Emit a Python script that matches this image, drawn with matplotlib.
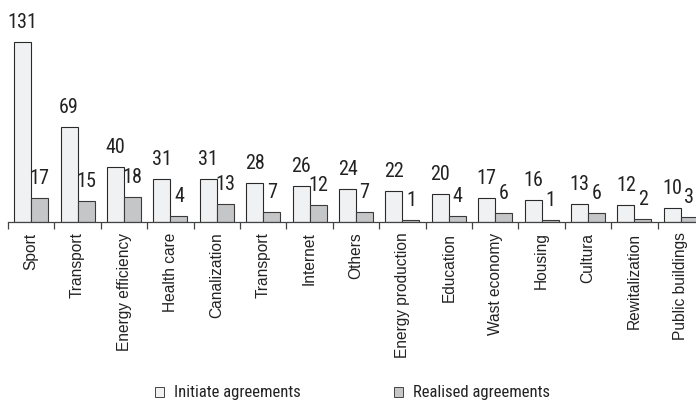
import matplotlib
matplotlib.use("Agg")
import matplotlib.pyplot as plt
import numpy as np
from matplotlib.patches import Patch
from matplotlib import font_manager

categories = ["Sport", "Transport", "Energy efficiency", "Health care", "Canalization",
              "Transport", "Internet", "Others", "Energy production", "Education",
              "Wast economy", "Housing", "Cultura", "Rewitalization", "Public buildings"]
initiated = [131, 69, 40, 31, 31, 28, 26, 24, 22, 20, 17, 16, 13, 12, 10]
realised = [17, 15, 18, 4, 13, 7, 12, 7, 1, 4, 6, 1, 6, 2, 3]
series_names = ["Initiate agreements", "Realised agreements"]

names = {f.name for f in font_manager.fontManager.ttflist}
narrow = None
for cand in ['Liberation Sans Narrow', 'Arial Narrow', 'Roboto Condensed']:
    if cand in names:
        narrow = cand
        break
plt.rcParams['font.family'] = ['Liberation Sans', 'DejaVu Sans']
if narrow is None:
    narrow_kw = dict(family=['Liberation Sans', 'DejaVu Sans'])
    val_fs, leg_fs = 13, 11
else:
    narrow_kw = dict(family=[narrow, 'Liberation Sans'])
    val_fs, leg_fs = 14.5, 12

W, H = 696, 401
fig = plt.figure(figsize=(W / 100, H / 100), dpi=100)
ax_left = 8 / W
ax_bottom = (H - 221.5) / H
ax_height = 221.5 / H
ax = fig.add_axes([ax_left, ax_bottom, 1.0, ax_height])

x = np.arange(len(categories))
bw = 0.366
c_init = "#f0f1f3"
c_real = "#c5c6c8"
ax.bar(x, initiated, width=-bw, align='edge', color=c_init, edgecolor="#2a2a2a", linewidth=0.8)
ax.bar(x, realised, width=bw, align='edge', color=c_real, edgecolor="#3a3a3a", linewidth=0.8)

for xi, v in zip(x, initiated):
    ax.annotate(str(v), (xi - bw / 2, v), xytext=(0, 10), textcoords='offset points',
                ha='center', va='baseline', fontsize=val_fs, color="#222222", **narrow_kw)
for xi, v in zip(x, realised):
    ax.annotate(str(v), (xi + bw / 2, v), xytext=(0, 10), textcoords='offset points',
                ha='center', va='baseline', fontsize=val_fs, color="#222222", **narrow_kw)

ax.set_xlim(-0.5, len(categories) - 0.5)
ax.set_ylim(0, 221.5 / 1.374)

for s in ['top', 'right', 'left']:
    ax.spines[s].set_visible(False)
ax.spines['bottom'].set_color("#444444")
ax.spines['bottom'].set_linewidth(0.9)
ax.set_yticks([])

ax.set_xticks(x)
ax.set_xticklabels(categories, rotation=90, fontsize=11.2, color="#222222", va='top')
ax.tick_params(axis='x', which='major', length=0, pad=8)
ax.set_xticks(np.arange(-0.5, len(categories), 1.0), minor=True)
ax.tick_params(axis='x', which='minor', length=5, width=0.9, color="#444444", direction='out')

handles = [Patch(facecolor=c_init, edgecolor="#444444", linewidth=0.7),
           Patch(facecolor=c_real, edgecolor="#444444", linewidth=0.7)]
lfs_px = leg_fs * 100 / 72
fig.legend(handles, series_names, loc='center left', bbox_to_anchor=(155 / W, 8 / H), ncol=2,
           frameon=False, handlelength=9 / lfs_px, handleheight=9 / lfs_px, borderpad=0,
           borderaxespad=0, handletextpad=10 / lfs_px, columnspacing=93 / lfs_px,
           labelcolor="#222222", prop=dict(size=leg_fs, **narrow_kw))

fig.savefig("out.png", dpi=100)
